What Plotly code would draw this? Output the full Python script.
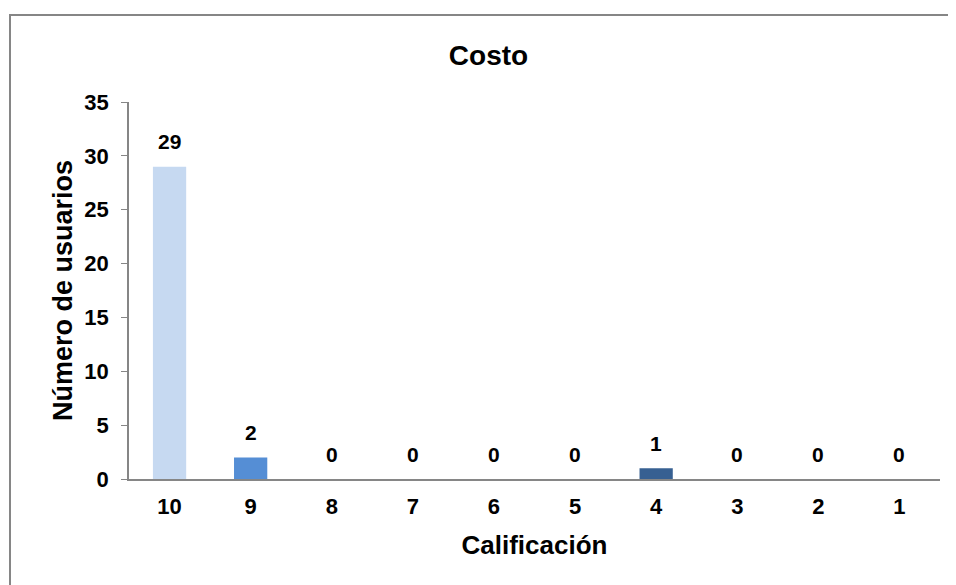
import plotly.graph_objects as go

categories = ["10", "9", "8", "7", "6", "5", "4", "3", "2", "1"]
values = [29, 2, 0, 0, 0, 0, 1, 0, 0, 0]
bar_colors = ["#C6D9F1", "#558ED5", "#558ED5", "#558ED5", "#558ED5",
              "#558ED5", "#376092", "#376092", "#376092", "#376092"]
y_ticks = [0, 5, 10, 15, 20, 25, 30, 35]

# the page body adds an 8px offset; margins account for it
W, H = 956, 585
ml, mr, mt, mb = 121, 24, 94, 114
pw, ph = W - ml - mr, H - mt - mb

FONT = "Liberation Sans, Arial, sans-serif"
gray = "#868686"

fig = go.Figure(go.Bar(
    x=categories, y=values,
    marker=dict(color=bar_colors, line=dict(width=0)),
    width=0.41,
    hoverinfo="x+y",
))

# data labels, placed at each category index on the category axis
for i, v in enumerate(values):
    fig.add_annotation(x=i, y=v, text=str(v), showarrow=False,
                       xref="x", yref="y", yanchor="middle", yshift=25,
                       font=dict(family=FONT, size=21, color="black", weight="bold"))

fig.update_layout(
    width=W, height=H,
    margin=dict(l=ml, r=mr, t=mt, b=mb),
    paper_bgcolor="white", plot_bgcolor="white",
    showlegend=False,
    font=dict(family=FONT, color="black"),
    title=dict(text="Costo", x=480.5 / W, xref="container", xanchor="center",
               y=1 - 47 / H, yref="container", yanchor="middle",
               font=dict(size=28, family=FONT, color="black", weight="bold")),
    xaxis=dict(
        type="category", categoryorder="array", categoryarray=categories,
        range=[-0.5, len(categories) - 0.5],
        tickmode="array", tickvals=categories,
        ticktext=["<b>" + c + "</b>" for c in categories],
        showline=True, linecolor=gray, linewidth=1.5,
        ticks="", ticklabelstandoff=7,
        tickfont=dict(size=22, family=FONT, color="black", weight="bold"),
        title=dict(text="Calificación", standoff=18,
                   font=dict(size=26, family=FONT, color="black", weight="bold")),
        showgrid=False, zeroline=False,
    ),
    yaxis=dict(
        range=[0, 35], tickvals=y_ticks,
        showline=True, linecolor=gray, linewidth=1.5,
        ticks="outside", ticklen=6, tickcolor=gray, tickwidth=1,
        ticklabelstandoff=8,
        tickfont=dict(size=22, family=FONT, color="black", weight="bold"),
        title=dict(text="Número de usuarios", standoff=4,
                   font=dict(size=27, family=FONT, color="black", weight="bold")),
        showgrid=False, zeroline=False,
    ),
    bargap=0.59,
)

# outer chart border (extends past the right and bottom edges)
fig.add_shape(type="rect", xref="paper", yref="paper",
              x0=(2 - ml) / pw, x1=(W + 20 - ml) / pw,
              y0=-(H + 20 - mt - ph) / ph, y1=(H - mb - 7) / ph,
              line=dict(color=gray, width=2), fillcolor="rgba(0,0,0,0)", layer="below")

fig.write_html("out.html")
